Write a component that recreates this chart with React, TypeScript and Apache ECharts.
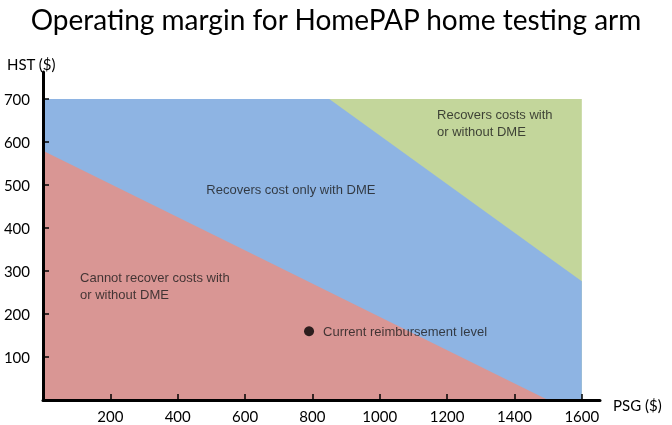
import React, { useEffect, useRef } from "react";
import * as echarts from "echarts";

const titleText = "Operating margin for HomePAP home testing arm";
const yName = "HST ($)";
const xName = "PSG ($)";
const xTicks = [200, 400, 600, 800, 1000, 1200, 1400, 1600];
const yTicks = [100, 200, 300, 400, 500, 600, 700];

// region boundaries [PSG, HST]
const greenArea = [[0, 700], [1600, 700]];
const blueArea = [[0, 700], [850, 700], [1600, 276]];
const redArea = [[0, 580], [1500, 0]];

const currentLevel = [[790, 160]];
const currentLabel = "Current reimbursement level";

const regionLabels: [number, number, string][] = [
  [1170, 645, "Recovers costs with\nor without DME"],
  [485, 490, "Recovers cost only with DME"],
  [110, 265, "Cannot recover costs with\nor without DME"],
];

const RED = "#d99694";
const BLUE = "#8eb4e3";
const GREEN = "#c3d69b";

function areaSeries(data: number[][], color: string, z: number) {
  return {
    type: "line",
    data,
    symbol: "none",
    lineStyle: { width: 0 },
    areaStyle: { color, opacity: 1 },
    z,
    silent: true,
  };
}

export default function App() {
  const ref = useRef<HTMLDivElement>(null);
  useEffect(() => {
    if (!ref.current) return;
    const chart = echarts.init(ref.current, undefined, { renderer: "svg" });
    const axisFont = { fontFamily: "Lato", fontSize: 15, color: "#000" };
    chart.setOption({
      animation: false,
      title: [
        {
          text: titleText,
          left: "center",
          top: 0,
          textStyle: { fontFamily: "Lato", fontSize: 28, fontWeight: "normal", color: "#000" },
        },
        {
          text: yName,
          left: 2,
          top: 51,
          textStyle: { ...axisFont, fontWeight: "normal" },
        },
        {
          text: xName,
          left: 608,
          top: 392,
          textStyle: { ...axisFont, fontWeight: "normal" },
        },
      ],
      grid: { left: 43, right: 72, top: 72, bottom: 25, containLabel: false },
      xAxis: {
        type: "value",
        min: 0,
        max: 1654,
        z: 10,
        splitLine: { show: false },
        axisLine: { show: true, onZero: false, lineStyle: { color: "#000", width: 3 } },
        axisTick: { show: true, inside: true, length: 6, customValues: xTicks, lineStyle: { color: "#000", width: 1.5 } },
        axisLabel: { ...axisFont, margin: 8, customValues: xTicks, formatter: (v: number) => String(v) },
      },
      yAxis: {
        type: "value",
        min: 0,
        max: 763,
        z: 10,
        splitLine: { show: false },
        axisLine: { show: true, onZero: false, lineStyle: { color: "#000", width: 3 } },
        axisTick: { show: true, inside: true, length: 6, customValues: yTicks, lineStyle: { color: "#000", width: 1.5 } },
        axisLabel: { ...axisFont, margin: 13, customValues: yTicks, formatter: (v: number) => String(v) },
      },
      series: [
        areaSeries(greenArea, GREEN, 1),
        areaSeries(blueArea, BLUE, 2),
        areaSeries(redArea, RED, 3),
        {
          type: "scatter",
          data: regionLabels.map((r) => ({ value: [r[0], r[1]], name: r[2] })),
          symbolSize: 0,
          z: 5,
          silent: true,
          label: {
            show: true,
            position: "right",
            distance: 0,
            formatter: (p: any) => p.name,
            fontFamily: "Liberation Sans",
            fontSize: 13,
            lineHeight: 17,
            color: "#1a1a1a",
            align: "left",
          },
        },
        {
          type: "scatter",
          data: currentLevel,
          symbolSize: 10,
          itemStyle: { color: "#000" },
          z: 6,
          silent: true,
          label: {
            show: true,
            position: "right",
            distance: 9,
            formatter: () => currentLabel,
            fontFamily: "Liberation Sans",
            fontSize: 13,
            color: "#1a1a1a",
          },
        },
      ],
    });
    return () => chart.dispose();
  }, []);
  return <div ref={ref} style={{ position: "fixed", left: 0, top: 0, width: 672, height: 425 }} />;
}
